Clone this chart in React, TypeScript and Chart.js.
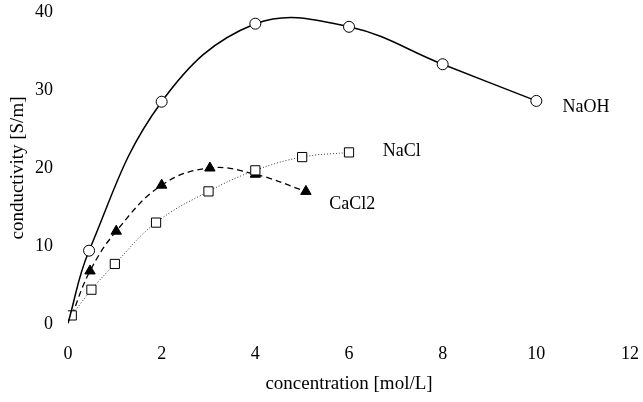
import React, { useEffect, useRef } from "react";
import { Chart, registerables } from "chart.js";

Chart.register(...registerables);

const naohX = [0, 0.45, 2, 4, 6, 8, 10];
const naohY = [0.1, 9.4, 28.5, 38.5, 38.1, 33.3, 28.6];
const naohMarker = [false, true, true, true, true, true, true];

const naclX = [0.08, 0.5, 1.0, 1.88, 3.0, 4.0, 5.0, 6.0];
const naclY = [1.1, 4.4, 7.7, 13.0, 17.0, 19.7, 21.4, 22.0];

const cacl2X = [0.08, 0.47, 1.03, 2.0, 3.03, 4.0, 5.08];
const cacl2Y = [1.1, 6.8, 11.9, 17.8, 20.0, 19.2, 17.0];
const cacl2Marker = [false, true, true, true, true, true, true];

const xTicks = [0, 2, 4, 6, 8, 10, 12];
const yTicks = [0, 10, 20, 30, 40];

const seriesLabels = [
  { text: "NaOH", x: 10.56, y: 27.8 },
  { text: "NaCl", x: 6.72, y: 22.1 },
  { text: "CaCl2", x: 5.58, y: 15.4 },
];

const FONT = "'Liberation Serif', 'Times New Roman', serif";
const FS = 18;
const TFS = 19;

export default function App() {
  const ref = useRef<HTMLCanvasElement>(null);
  useEffect(() => {
    if (!ref.current) return;
    const labelPlugin = {
      id: "seriesLabels",
      afterDatasetsDraw(chart: any) {
        const ctx = chart.ctx;
        const xs = chart.scales.x;
        const ys = chart.scales.y;
        ctx.save();
        ctx.fillStyle = "#000";
        ctx.font = `${FS}px ${FONT}`;
        ctx.textAlign = "left";
        ctx.textBaseline = "middle";
        for (const l of seriesLabels) {
          ctx.fillText(l.text, xs.getPixelForValue(l.x), ys.getPixelForValue(l.y));
        }
        ctx.restore();
      },
    };
    const chart = new Chart(ref.current, {
      type: "line",
      data: {
        datasets: [
          {
            label: "NaOH",
            data: naohX.map((x, i) => ({ x, y: naohY[i] })),
            borderColor: "#000",
            borderWidth: 1.5,
            tension: 0.4,
            pointStyle: "circle",
            pointRadius: naohMarker.map((m) => (m ? 5.5 : 0)),
            pointBackgroundColor: "#fff",
            pointBorderColor: "#000",
            pointBorderWidth: 1,
            fill: false,
          },
          {
            label: "NaCl",
            data: naclX.map((x, i) => ({ x, y: naclY[i] })),
            borderColor: "#333",
            borderWidth: 1,
            borderDash: [1, 2],
            tension: 0.4,
            pointStyle: "rect",
            pointRadius: 6.5,
            pointBackgroundColor: "#fff",
            pointBorderColor: "#000",
            pointBorderWidth: 1,
            fill: false,
          },
          {
            label: "CaCl2",
            data: cacl2X.map((x, i) => ({ x, y: cacl2Y[i] })),
            borderColor: "#000",
            borderWidth: 1.3,
            borderDash: [6, 4],
            tension: 0.4,
            pointStyle: "triangle",
            pointRadius: cacl2Marker.map((m) => (m ? 6 : 0)),
            pointBackgroundColor: "#000",
            pointBorderColor: "#000",
            pointBorderWidth: 1,
            fill: false,
          },
        ],
      },
      options: {
        animation: false,
        responsive: false,
        maintainAspectRatio: false,
        layout: { padding: { top: 12, right: 13, left: 0, bottom: 0 } },
        plugins: { legend: { display: false }, tooltip: { enabled: false } },
        scales: {
          x: {
            type: "linear",
            min: 0,
            max: 12,
            afterBuildTicks: (s: any) => {
              s.ticks = xTicks.map((v) => ({ value: v }));
            },
            afterFit: (s: any) => {
              s.height = 78;
              s.paddingLeft = 0;
              s.paddingRight = 0;
            },
            grid: { display: false, drawTicks: false },
            border: { display: false },
            ticks: {
              color: "#000",
              font: { family: FONT, size: FS },
              padding: 19,
              maxRotation: 0,
            },
            title: {
              display: true,
              text: "concentration [mol/L]",
              color: "#000",
              font: { family: FONT, size: TFS },
              padding: 7,
            },
          },
          y: {
            type: "linear",
            min: 0,
            max: 40,
            afterBuildTicks: (s: any) => {
              s.ticks = yTicks.map((v) => ({ value: v }));
            },
            afterFit: (s: any) => {
              s.width = 68;
              s.paddingTop = 0;
              s.paddingBottom = 0;
            },
            grid: { display: false, drawTicks: false },
            border: { display: false },
            ticks: {
              color: "#000",
              font: { family: FONT, size: FS },
              padding: 15,
            },
            title: {
              display: true,
              text: "conductivity [S/m]",
              color: "#000",
              font: { family: FONT, size: TFS },
              padding: 7,
            },
          },
        },
      },
      plugins: [labelPlugin],
    });
    return () => chart.destroy();
  }, []);
  return (
    <div style={{ position: "absolute", left: 0, top: 0, width: 643, height: 402, background: "#fff" }}>
      <canvas ref={ref} width={643} height={402} style={{ width: 643, height: 402 }} />
    </div>
  );
}
